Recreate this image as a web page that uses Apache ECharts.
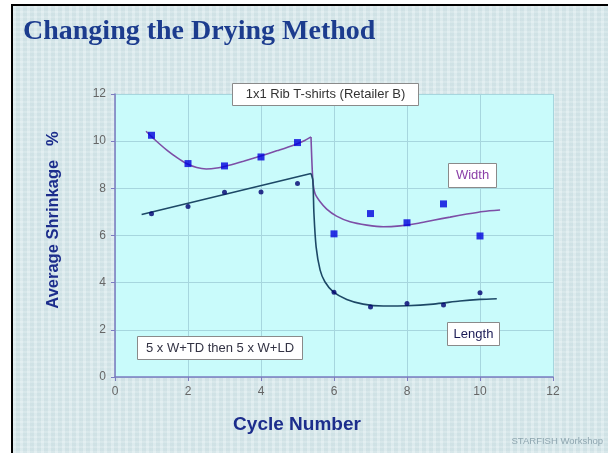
<!DOCTYPE html>
<html>
<head>
<meta charset="utf-8">
<script src="https://cdn.jsdelivr.net/npm/echarts@6/dist/echarts.min.js"></script>
<style>
  html, body { margin: 0; padding: 0; background: #ffffff; }
  #frame {
    position: absolute; left: 11px; top: 4px; width: 595px; height: 447px;
    border-left: 2px solid #000; border-top: 2px solid #000;
    background-color: #d8e9ec;
    background-image:
      repeating-linear-gradient(90deg, rgba(255,255,255,0.18) 0px, rgba(255,255,255,0.18) 3px, rgba(120,150,160,0.05) 3px, rgba(120,150,160,0.05) 7px),
      repeating-linear-gradient(0deg, rgba(255,255,255,0.12) 0px, rgba(255,255,255,0.12) 2px, rgba(120,150,160,0.04) 2px, rgba(120,150,160,0.04) 5px);
  }
  #chart { position: absolute; left: 0; top: 0; width: 608px; height: 453px; }
</style>
</head>
<body>
<div id="frame"></div>
<div id="chart"></div>
<script>
// ---- Data ----
const cycles = [1, 2, 3, 4, 5, 6, 7, 8, 9, 10];
const widthValues  = [10.25, 9.05, 8.95, 9.33, 9.94, 6.07, 6.93, 6.54, 7.34, 5.98];
const lengthValues = [6.92, 7.23, 7.83, 7.84, 8.20, 3.59, 2.97, 3.12, 3.05, 3.57];

const widthCurvePre  = [[0.85, 10.42], [1.1, 10.05], [1.42, 9.62], [1.7, 9.3], [1.96, 9.05], [2.24, 8.88], [2.5, 8.82], [2.79, 8.86], [3.1, 8.97], [3.52, 9.15], [3.97, 9.36], [4.45, 9.6], [4.89, 9.83], [5.2, 10.03], [5.37, 10.18]];
const widthCurvePost = [[5.37, 10.18], [5.42, 8.35], [5.48, 7.78], [5.62, 7.43], [5.8, 7.12], [6.07, 6.82], [6.44, 6.58], [6.9, 6.44], [7.35, 6.37], [7.81, 6.41], [8.27, 6.51], [8.72, 6.65], [9.18, 6.78], [9.64, 6.91], [10.09, 7.02], [10.55, 7.08]];
const lengthCurvePre  = [[0.73, 6.89], [5.37, 8.63]];
const lengthCurvePost = [[5.37, 8.63], [5.42, 8.35], [5.45, 6.94], [5.51, 5.52], [5.62, 4.53], [5.75, 4.04], [5.98, 3.61], [6.35, 3.29], [6.8, 3.09], [7.35, 3.01], [7.99, 3.02], [8.72, 3.09], [9.45, 3.22], [10.0, 3.29], [10.46, 3.32]];

const xTicks = [0, 2, 4, 6, 8, 10, 12];
const yTicks = [0, 2, 4, 6, 8, 10, 12];

const titleText = 'Changing the Drying Method';
const chartLabel = '1x1 Rib T-shirts (Retailer B)';
const widthLabel = 'Width';
const lengthLabel = 'Length';
const methodLabel = '5 x W+TD then 5 x W+LD';
const footer = 'STARFISH Workshop';
const yTitle = 'Average Shrinkage   %';
const xTitle = 'Cycle Number';

const widthPts  = cycles.map((c, i) => [c, widthValues[i]]);
const lengthPts = cycles.map((c, i) => [c, lengthValues[i]]);

const chart = echarts.init(document.getElementById('chart'), null, { renderer: 'canvas' });

function box(x, y, w, h, text, color) {
  return {
    type: 'group', left: x, top: y, z: 100,
    children: [
      { type: 'rect', z: 100, shape: { x: 0, y: 0, width: w, height: h },
        style: { fill: '#ffffff', stroke: '#8a8a8a', lineWidth: 1 } },
      { type: 'text', z: 101, x: w / 2, y: h / 2,
        style: { text: text, fill: color, font: '13px "Liberation Sans", Arial, sans-serif',
                 align: 'center', verticalAlign: 'middle' } }
    ]
  };
}

const axisLine = { show: true, lineStyle: { color: '#7c7cc0', width: 1.5 } };
const labelStyle = { color: '#666666', fontSize: 12, margin: 9, fontFamily: 'Liberation Sans, Arial' };

chart.setOption({
  backgroundColor: 'transparent',
  animation: false,
  grid: {
    left: 115, right: 55, top: 94, bottom: 76,
    show: true, backgroundColor: '#c9fbfb', borderWidth: 0
  },
  xAxis: {
    type: 'value', min: xTicks[0], max: xTicks[xTicks.length - 1], interval: 2,
    axisLine: axisLine,
    axisTick: { show: true, length: 4, lineStyle: { color: '#7c7cc0' } },
    axisLabel: labelStyle,
    splitLine: { show: true, lineStyle: { color: '#a6d6de', width: 1 } }
  },
  yAxis: {
    type: 'value', min: yTicks[0], max: yTicks[yTicks.length - 1], interval: 2,
    axisLine: axisLine,
    axisTick: { show: true, length: 4, lineStyle: { color: '#7c7cc0' } },
    axisLabel: labelStyle,
    splitLine: { show: true, lineStyle: { color: '#a6d6de', width: 1 } }
  },
  series: [
    { type: 'line', data: widthCurvePre, smooth: 0.25, symbol: 'none',
      lineStyle: { color: '#7d4ea6', width: 1.6 }, z: 3 },
    { type: 'line', data: widthCurvePost, smooth: 0.25, symbol: 'none',
      lineStyle: { color: '#7d4ea6', width: 1.6 }, z: 3 },
    { type: 'line', data: lengthCurvePre, smooth: false, symbol: 'none',
      lineStyle: { color: '#1d4866', width: 1.6 }, z: 3 },
    { type: 'line', data: lengthCurvePost, smooth: 0.25, symbol: 'none',
      lineStyle: { color: '#1d4866', width: 1.6 }, z: 3 },
    { type: 'scatter', data: widthPts, symbol: 'rect', symbolSize: 7,
      itemStyle: { color: '#0000dd' }, z: 5 },
    { type: 'scatter', data: lengthPts, symbol: 'circle', symbolSize: 5,
      itemStyle: { color: '#000070' }, z: 5 }
  ],
  graphic: [
    { type: 'text', left: 23, top: 18, z: 100,
      style: { text: titleText, fill: '#1c3c8e',
               font: 'bold 28px "Liberation Serif", "Times New Roman", serif' } },
    { type: 'text', x: 53, y: 220, rotation: Math.PI / 2, z: 100,
      style: { text: yTitle, fill: '#1c2d8c', align: 'center', verticalAlign: 'middle',
               font: 'bold 16.5px "Liberation Sans", Arial, sans-serif' } },
    { type: 'text', x: 297, y: 425, z: 100,
      style: { text: xTitle, fill: '#1c2d8c', align: 'center', verticalAlign: 'middle',
               font: 'bold 19px "Liberation Sans", Arial, sans-serif' } },
    box(232, 83, 186, 22, chartLabel, '#333333'),
    box(448, 163, 48, 24, widthLabel, '#8a3fa8'),
    box(447, 322, 52, 23, lengthLabel, '#1a1a55'),
    box(137, 336, 165, 23, methodLabel, '#333344'),
    { type: 'text', x: 603, y: 441, z: 100,
      style: { text: footer, fill: '#8fa6b0', align: 'right', verticalAlign: 'middle',
               font: '9.5px "Liberation Sans", Arial, sans-serif' } }
  ]
});
</script>
</body>
</html>
